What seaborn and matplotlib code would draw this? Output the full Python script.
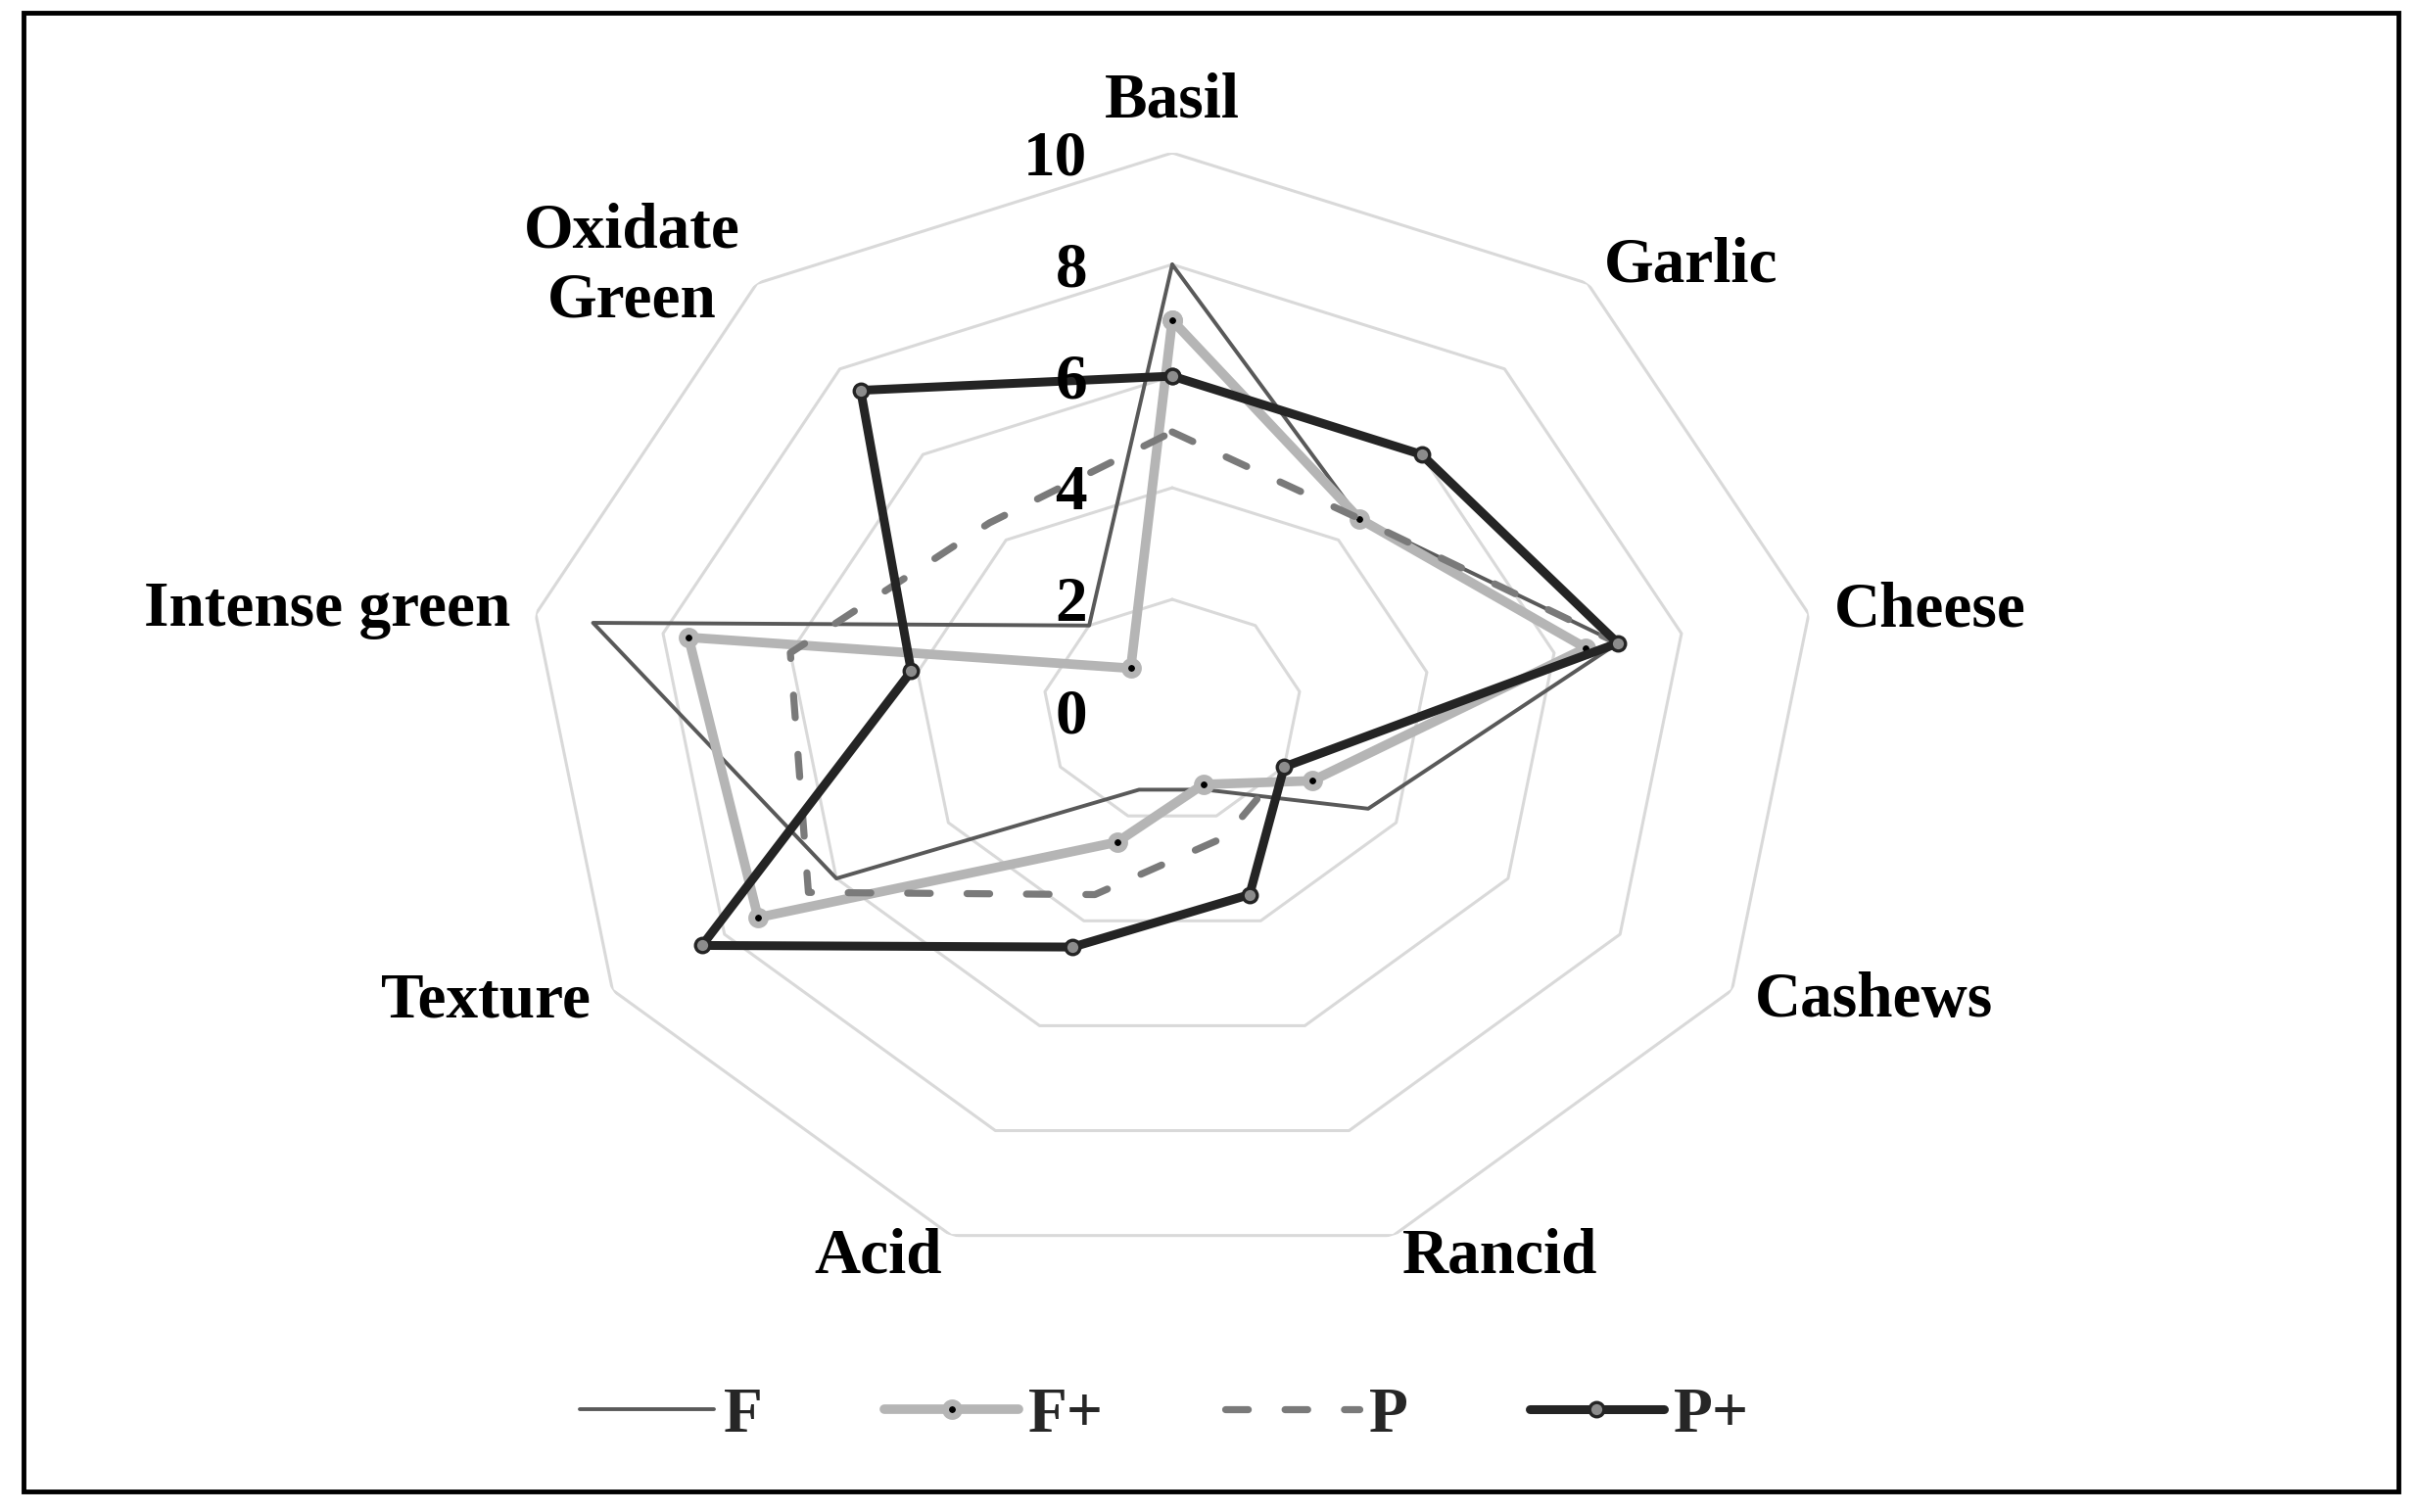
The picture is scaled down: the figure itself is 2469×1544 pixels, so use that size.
import numpy as np
import pandas as pd
import matplotlib
matplotlib.use("Agg")
import matplotlib.pyplot as plt
import matplotlib.transforms as mtransforms
from matplotlib.patches import Rectangle
import seaborn as sns

# sensory attributes (clockwise from the top)
attributes = ["Basil", "Garlic", "Cheese", "Cashews", "Rancid", "Acid",
              "Texture", "Intense green", "Oxidate\nGreen"]

# panel scores
score_F = [8, 4.5, 7, 3.5, 1.5, 1.5, 6, 9.1, 2]
score_Fplus = [7, 4.5, 6.5, 2.5, 1.4, 2.5, 7.4, 7.6, 1]
score_P = [5, 4.5, 7, 2, 2.4, 3.5, 6.5, 6, 4.4]
score_Pplus = [6, 6, 7, 2, 3.5, 4.5, 8.4, 4.1, 7.5]

series_names = ["F", "F+", "P", "P+"]
grid_levels = [2, 4, 6, 8, 10]
tick_values = [0, 2, 4, 6, 8, 10]

sns.set_theme(style="white")
plt.rcParams['font.family'] = ['Liberation Serif', 'DejaVu Serif']
plt.rcParams['font.weight'] = 'bold'

n = len(attributes)
theta = np.linspace(0, 2 * np.pi, n, endpoint=False)
theta_closed = np.append(theta, theta[0])

fig = plt.figure(figsize=(24.69, 15.44), dpi=100)
ax = fig.add_axes([0.2175, 0.1606, 0.5346, 0.7383], projection='polar')
ax.set_aspect('auto')
ax.set_theta_zero_location('N')
ax.set_theta_direction(-1)

# polygon gridlines
for lv in grid_levels:
    ax.plot(theta_closed, [lv] * (n + 1), color='#d9d9d9', linewidth=2.2, zorder=1)

styles = {
    "F": dict(color='#595959', linewidth=2.8),
    "F+": dict(color='#b5b5b5', linewidth=7, marker='o', markersize=10,
               markerfacecolor='black', markeredgecolor='#b5b5b5', markeredgewidth=5),
    "P": dict(color='#7a7a7a', linewidth=5.2),
    "P+": dict(color='#242424', linewidth=6.5, marker='o', markersize=10.5,
               markerfacecolor='#8c8c8c', markeredgecolor='#242424', markeredgewidth=2.4),
}
values = {"F": score_F, "F+": score_Fplus, "P": score_P, "P+": score_Pplus}

handles = []
for name in series_names:
    vals = values[name]
    df = pd.DataFrame({"theta": theta_closed, "score": vals + [vals[0]]})
    n_before = len(ax.lines)
    sns.lineplot(data=df, x="theta", y="score", sort=False, estimator=None,
                 ax=ax, label=name, legend=False, color=styles[name]['color'])
    line = ax.lines[n_before]
    line.set(**styles[name])
    line.set_solid_capstyle('round')
    line.set_solid_joinstyle('round')
    if name == "P":
        line.set_dashes((3.2, 5.2))
        line.set_dash_capstyle('round')
    handles.append(line)

ax.set_ylim(0, 10)
ax.set_xticks([])
ax.set_yticks([])
ax.grid(False)
ax.spines['polar'].set_visible(False)
ax.patch.set_visible(False)
ax.set_xlabel('')
ax.set_ylabel('')

# category labels
label_r = 10.4
for t, lab in zip(theta, attributes):
    s = np.sin(t)
    if abs(s) < 1e-6:
        ha, va = 'center', 'bottom'
    elif s > 0:
        ha, va = 'left', 'center'
    else:
        ha, va = 'right', 'center'
    ax.text(t, label_r, lab, ha=ha, va=va, fontsize=47, fontweight='bold',
            multialignment='center', color='black', clip_on=False, linespacing=1.25)

# value labels along the Basil axis
tick_tr = mtransforms.offset_copy(ax.transData, fig=fig, x=-87, y=-6, units='dots')
for v in tick_values:
    ax.text(0, v, str(v), transform=tick_tr, ha='right', va='center',
            fontsize=47, fontweight='bold', color='black', clip_on=False)

fig.legend(handles, series_names, loc='center', bbox_to_anchor=(0.4816, 0.0635),
           ncol=4, frameon=False, handlelength=2.1, handletextpad=0.15,
           columnspacing=1.9, prop={'size': 47, 'weight': 'bold'})

# outer frame
fig.add_artist(Rectangle((24 / 2469, 1 - 1523 / 1544), (2449 - 24) / 2469,
                         (1523 - 13) / 1544, transform=fig.transFigure,
                         fill=False, linewidth=3.5, edgecolor='black'))

fig.savefig("out.png", dpi=100, facecolor='white')
